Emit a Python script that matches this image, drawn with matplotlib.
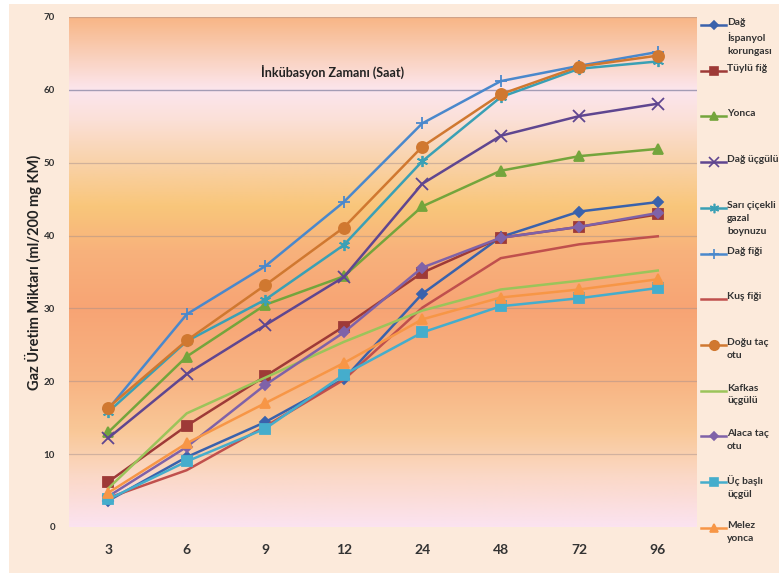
import numpy as np
import matplotlib.pyplot as plt
from matplotlib.colors import LinearSegmentedColormap
from matplotlib.lines import Line2D
from matplotlib.patches import Rectangle

plt.rcParams['font.family'] = ['Lato', 'DejaVu Sans']

saatler = ['3', '6', '9', '12', '24', '48', '72', '96']

dag_ispanyol = [3.6, 9.6, 14.4, 20.3, 32.0, 39.8, 43.3, 44.6]
tuylu_fig = [6.2, 13.9, 20.7, 27.5, 34.9, 39.7, 41.2, 42.9]
yonca = [13.0, 23.4, 30.5, 34.4, 44.0, 48.9, 50.9, 51.9]
dag_ucgulu = [12.2, 21.0, 27.7, 34.3, 47.1, 53.7, 56.4, 58.1]
sari_cicekli = [15.8, 25.5, 31.2, 38.7, 50.2, 59.0, 62.9, 63.9]
dag_figi = [16.2, 29.2, 35.8, 44.6, 55.4, 61.2, 63.3, 65.2]
kus_figi = [4.0, 7.8, 13.8, 20.2, 30.1, 36.9, 38.8, 39.9]
dogu_tac = [16.4, 25.6, 33.2, 41.1, 52.2, 59.4, 63.2, 64.7]
kafkas = [5.3, 15.6, 20.5, 25.4, 29.7, 32.6, 33.8, 35.2]
alaca_tac = [4.2, 11.0, 19.5, 26.7, 35.6, 39.7, 41.2, 43.1]
uc_basli = [3.8, 9.0, 13.5, 20.9, 26.7, 30.3, 31.4, 32.8]
melez_yonca = [4.7, 11.5, 17.0, 22.5, 28.5, 31.5, 32.6, 34.0]

seriler = [
    ('Dağ\nİspanyol\nkorungası', dag_ispanyol, '#3A62AC', 'D', 5),
    ('Tüylü fiğ', tuylu_fig, '#9E3A37', 's', 7),
    ('Yonca', yonca, '#74A53C', '^', 7),
    ('Dağ üçgülü', dag_ucgulu, '#5F4690', 'x', 8),
    ('Sarı çiçekli\ngazal\nboynuzu', sari_cicekli, '#3AA0B5', (6, 2, 0), 8),
    ('Dağ fiği', dag_figi, '#4A88CC', '+', 8),
    ('Kuş fiği', kus_figi, '#C0504D', None, 0),
    ('Doğu taç\notu', dogu_tac, '#D07830', 'o', 8),
    ('Kafkas\nüçgülü', kafkas, '#9BC45A', None, 0),
    ('Alaca taç\notu', alaca_tac, '#7F62A8', 'D', 5),
    ('Üç başlı\nüçgül', uc_basli, '#45ADCC', 's', 7),
    ('Melez\nyonca', melez_yonca, '#F79646', '^', 7),
]

W, H = 779, 573
fig = plt.figure(figsize=(W / 100, H / 100), dpi=100, facecolor='white')
fig.add_artist(Rectangle((9 / W, 0), 1, 1 - 4 / H, transform=fig.transFigure,
                         facecolor='#FCEADB', edgecolor='none', zorder=-5))

ax = fig.add_axes([69 / W, (H - 527) / H, 628 / W, 510 / H])
ax.set_facecolor('none')

# arka plan degrade
duraklar = [(0, '#FBE3F0'), (7, '#FBD8C6'), (13, '#F9C898'), (20, '#F8B483'),
            (30, '#F7A474'), (38, '#F8B27C'), (44, '#F9C67A'), (50, '#F9D2A8'),
            (56, '#FBE0D8'), (60, '#FCE6EE'), (64, '#FAD4C4'), (70, '#F8B686')]
cmap = LinearSegmentedColormap.from_list('bg', [(v / 70, c) for v, c in duraklar])
grad = np.linspace(0, 1, 256).reshape(-1, 1)
ax.imshow(grad, extent=(-0.5, 7.5, 0, 70), origin='lower', aspect='auto',
          cmap=cmap, zorder=0)

for yv in range(10, 71, 10):
    if yv == 60:
        ax.axhline(yv, color='#8F8AA8', lw=1.0, alpha=0.8, zorder=1)
    else:
        ax.axhline(yv, color='#A08C8C', lw=0.9, alpha=0.45, zorder=1)

x = np.arange(len(saatler))
for ad, vals, renk, mk, ms in seriler:
    ax.plot(x, vals, color=renk, lw=1.8, marker=mk, markersize=ms,
            markeredgewidth=1.3, zorder=3)

ax.set_xlim(-0.5, 7.5)
ax.set_ylim(0, 70)
ax.set_yticks(range(0, 71, 10))
ax.set_xticks(x)
ax.set_xticklabels(saatler)
for s in ax.spines.values():
    s.set_visible(False)
ax.tick_params(axis='both', length=0, colors='#333333')
ax.tick_params(axis='y', labelsize=7, pad=10)
ax.tick_params(axis='x', labelsize=10, pad=12)
for t in ax.get_xticklabels() + ax.get_yticklabels():
    t.set_fontweight('bold')

ax.set_ylabel('Gaz Üretim Miktarı (ml/200 mg KM)', fontsize=10.5,
              fontweight='bold', color='#222222', labelpad=1)
ax.text(0.419, 0.892, 'İnkübasyon Zamanı (Saat)', transform=ax.transAxes,
        ha='center', va='center', fontsize=9, fontweight='bold', color='#222222')

# lejant
for i, (ad, vals, renk, mk, ms) in enumerate(seriler):
    yp = 25 + i * 45.7
    fy = 1 - yp / H
    fig.add_artist(Line2D([701 / W, 726 / W], [fy, fy], transform=fig.transFigure,
                          color=renk, lw=1.8))
    if mk is not None:
        fig.add_artist(Line2D([713.5 / W], [fy], transform=fig.transFigure,
                              color=renk, marker=mk, markersize=ms * 0.85,
                              markeredgewidth=1.2, lw=0))
    fig.text(727 / W, 1 - (yp - 7) / H, ad, ha='left', va='top', fontsize=7.4,
             fontweight='bold', color='#333333', linespacing=1.55)

fig.savefig('out.png', dpi=100, facecolor=fig.get_facecolor())
